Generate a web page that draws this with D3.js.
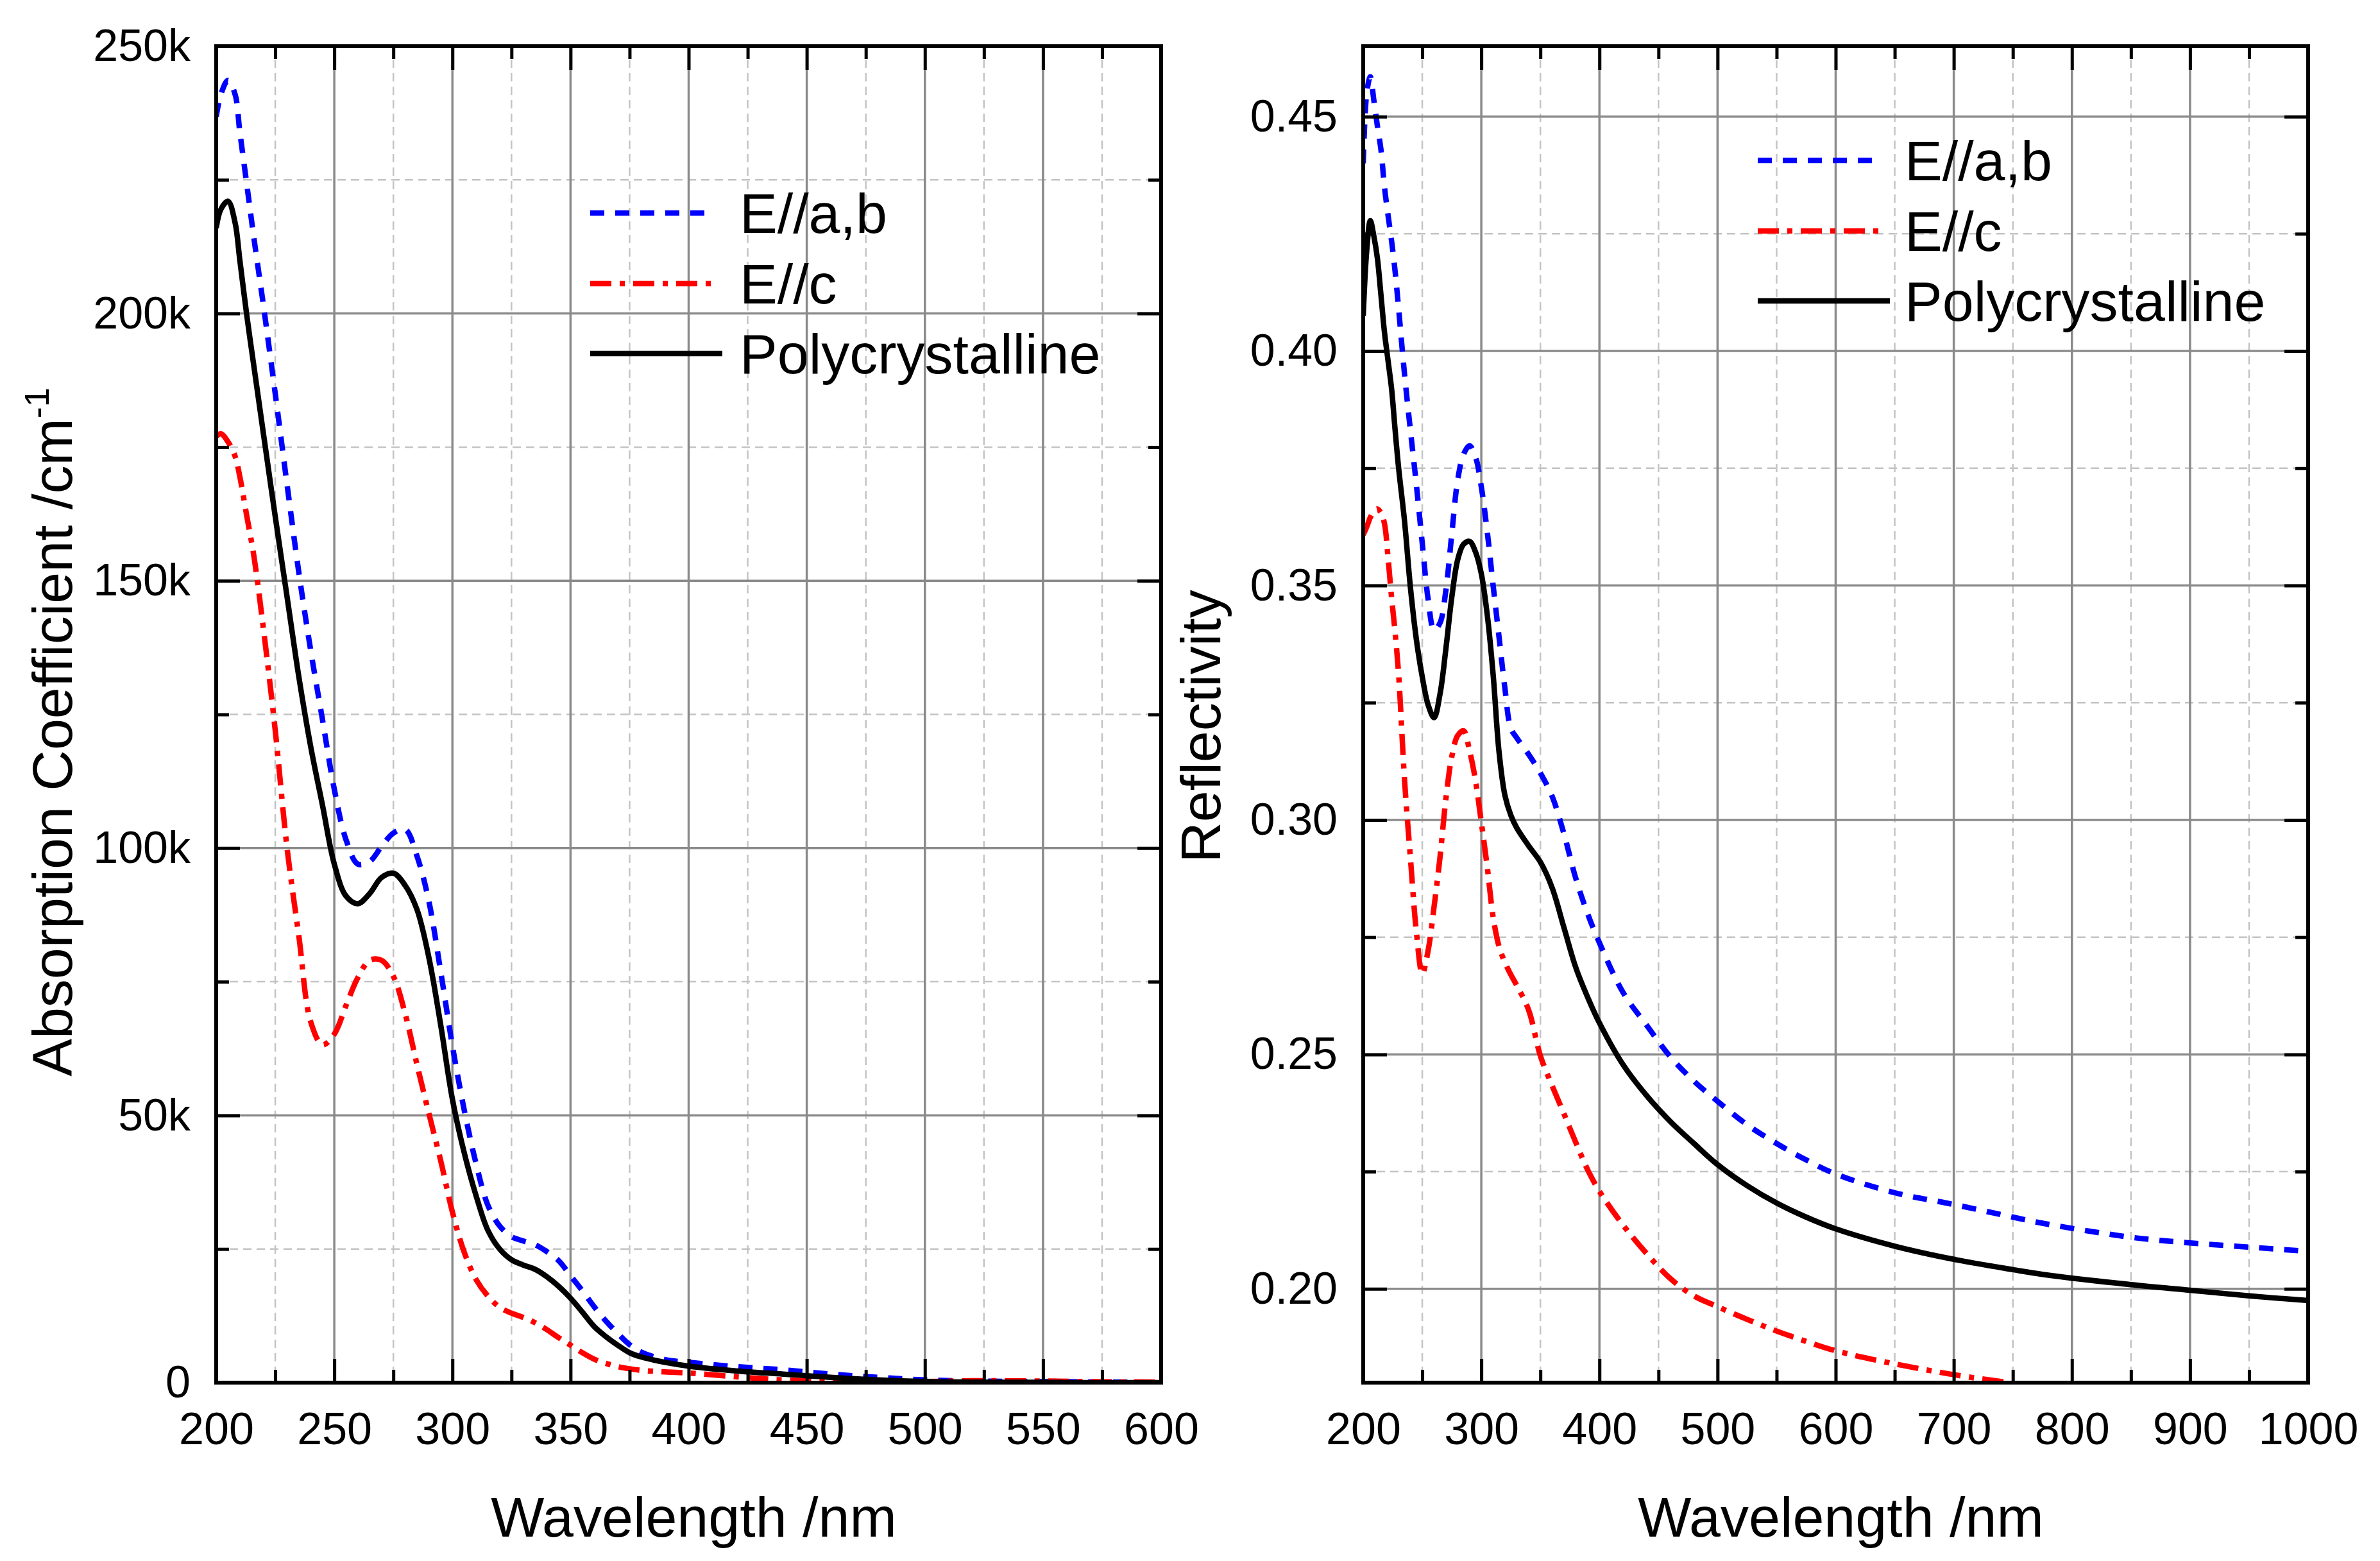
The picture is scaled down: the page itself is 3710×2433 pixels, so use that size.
<!DOCTYPE html>
<html>
<head>
<meta charset="utf-8">
<script src="https://cdn.jsdelivr.net/npm/d3@7"></script>
<style>
  body { margin: 0; background: #fff; }
  text { font-family: "Liberation Sans", Arial, sans-serif; fill: #000; }
</style>
</head>
<body>
<script>
// ---- absorption panel data (values in k cm^-1) ----
let absWavelength = [200,202,205,208,210,213,216,220,225,230,235,240,245,250,255,260,265,270,275,280,
                     285,290,295,300,305,310,315,320,325,330,335,340,345,350,355,360,365,370,375,380,
                     390,400,420,440,460,480,500,520,550,575,600];
let absAB   = [236.8,241,243.6,241,234,224,214,201.5,185,168,151.5,137,124,111,101.5,97,97.5,100.3,102.8,103.5,
               98.5,90.1,77,63,51,41,33.2,29.3,27.3,26.5,25.8,24.5,22.8,20,17.2,14.2,11.5,9.2,7.1,5.7,
               4.3,3.8,3.0,2.4,1.6,1.0,0.5,0.3,0.2,0.1,0.05];
let absC    = [177,177.5,176,173.3,169.5,162,154.5,141,122,100,83.5,67.5,63.2,65.2,70.6,75.8,79,79,76,69,
               59.5,50.4,41.6,31.9,24.4,19.3,16.2,14.1,13,12.2,11.2,9.9,8.4,7,5.6,4.4,3.6,3.0,2.6,2.3,
               2.0,1.8,1.1,0.5,0.3,0.2,0.2,0.35,0.3,0.15,0.1];
let absPoly = [216,219.5,221,217,210,199.5,190,177.5,162,147,132,119,108,97,91,89.6,91.5,94.5,95.3,93,
               88.5,79.6,67,53,43,35,28.5,25,23,22,21.2,19.8,18,15.8,13.2,10.5,8.6,7,5.6,4.8,
               3.8,3.1,2.2,1.6,1.0,0.5,0.2,0.1,0.05,0,0];

// ---- reflectivity panel data ----
let refWavelength = [200,203,206,209,212,215,218,221,224,227,230,235,240,245,250,255,260,265,270,275,
                     280,285,290,295,300,305,310,315,320,325,330,340,350,360,370,380,390,400,420,440,
                     460,480,500,525,550,575,600,650,700,750,775,850,900,950,1000];
let refAB   = [0.440,0.455,0.4585,0.4535,0.448,0.443,0.435,0.429,0.4235,0.417,0.409,0.395,0.383,0.3715,0.359,0.347,0.3405,0.342,0.349,0.361,
               0.3725,0.378,0.3798,0.3775,0.371,0.3615,0.350,0.339,0.328,0.3195,0.3175,0.314,0.310,0.305,0.297,0.2875,0.280,0.2738,0.2632,0.2562,
               0.2495,0.2443,0.240,0.235,0.231,0.2275,0.2245,0.2205,0.218,0.2153,0.214,0.211,0.2098,0.2089,0.208];
let refC    = [0.3608,0.3625,0.3645,0.3658,0.3663,0.3655,0.3632,0.356,0.3475,0.340,0.331,0.3085,0.2918,0.2762,0.2672,0.2722,0.2815,0.292,0.3045,0.3135,
               0.318,0.319,0.3148,0.3085,0.2995,0.290,0.2793,0.273,0.2696,0.267,0.2647,0.2595,0.2497,0.2433,0.2373,0.2312,0.2254,0.2208,0.2136,0.2075,
               0.2022,0.1985,0.1962,0.1935,0.191,0.1888,0.1868,0.1840,0.1817,0.1799,0.1792,null,null,null,null];
let refPoly = [0.4075,0.4215,0.4278,0.4245,0.4198,0.412,0.404,0.398,0.392,0.3832,0.375,0.3637,0.3495,0.3385,0.3305,0.3245,0.3218,0.3268,0.3365,0.3475,
               0.3555,0.3588,0.3594,0.3572,0.3525,0.3438,0.331,0.3145,0.3052,0.3010,0.2983,0.2945,0.291,0.2855,0.277,0.2685,0.2622,0.2567,0.2478,0.2412,
               0.2357,0.2310,0.2265,0.2220,0.2183,0.2153,0.2128,0.2091,0.2063,0.2041,0.2031,0.2009,0.1997,0.1985,0.1975];

let legendLabels = ["E//a,b", "E//c", "Polycrystalline"];

// ---- ticks ----
let absXMajor = [200,250,300,350,400,450,500,550,600];
let absXMinor = [225,275,325,375,425,475,525,575];
let absYMajor = [0,50,100,150,200,250];
let absYMinor = [25,75,125,175,225];
let refXMajor = [200,300,400,500,600,700,800,900,1000];
let refXMinor = [250,350,450,550,650,750,850,950];
let refYMajor = [0.20,0.25,0.30,0.35,0.40,0.45];
let refYMinor = [0.225,0.275,0.325,0.375,0.425];

let width = 3710;
let height = 2433;
let svg = d3.select("body").append("svg")
            .attr("width", width)
            .attr("height", height);

// legend sample length differs per style so each pattern ends cleanly
let styles = [
  { color: "#0000ff", dash: "22,17", legLen: 178 },
  { color: "#ff0000", dash: "33,13,8,13", legLen: 192 },
  { color: "#000000", dash: null, legLen: 206 }
];

function drawPanel(p) {
  let x = d3.scaleLinear().domain(p.xDomain).range([p.left, p.right]);
  let y = d3.scaleLinear().domain(p.yDomain).range([p.bottom, p.top]);
  let w = p.right - p.left, h = p.bottom - p.top;
  let g = svg.append("g");

  // grid: minor dashed, major solid
  g.selectAll(".vminor").data(p.xMinor).enter().append("line")
    .attr("x1", d => x(d)).attr("x2", d => x(d)).attr("y1", p.top).attr("y2", p.bottom)
    .attr("stroke", "#c4c4c4").attr("stroke-width", 2.5).attr("stroke-dasharray", "13,8");
  g.selectAll(".hminor").data(p.yMinor).enter().append("line")
    .attr("x1", p.left).attr("x2", p.right).attr("y1", d => y(d)).attr("y2", d => y(d))
    .attr("stroke", "#c4c4c4").attr("stroke-width", 2.5).attr("stroke-dasharray", "13,8");
  g.selectAll(".vmajor").data(p.xMajor).enter().append("line")
    .attr("x1", d => x(d)).attr("x2", d => x(d)).attr("y1", p.top).attr("y2", p.bottom)
    .attr("stroke", "#8a8a8a").attr("stroke-width", 3.5);
  g.selectAll(".hmajor").data(p.yMajor).enter().append("line")
    .attr("x1", p.left).attr("x2", p.right).attr("y1", d => y(d)).attr("y2", d => y(d))
    .attr("stroke", "#8a8a8a").attr("stroke-width", 3.5);

  // curves
  let clipId = "clip" + p.left;
  svg.append("defs").append("clipPath").attr("id", clipId)
     .append("rect").attr("x", p.left).attr("y", p.top).attr("width", w).attr("height", h);
  let line = d3.line()
               .defined(d => d[1] !== null)
               .x(d => x(d[0])).y(d => y(d[1]))
               .curve(d3.curveCatmullRom.alpha(0.5));
  p.series.forEach((s, i) => {
    let pts = p.wl.map((wv, k) => [wv, s[k]]);
    g.append("path").datum(pts)
      .attr("clip-path", "url(#" + clipId + ")")
      .attr("d", line)
      .attr("fill", "none")
      .attr("stroke", styles[i].color)
      .attr("stroke-width", 8.5)
      .attr("stroke-dasharray", styles[i].dash);
  });

  // axes with inward ticks on all four sides
  function axis(gen, tr, vals, size, labels) {
    let a = gen.tickValues(vals).tickSizeInner(-size).tickSizeOuter(0).tickPadding(labels ? p.pad : 0)
               .tickFormat(labels ? p.fmt : () => "");
    let ag = g.append("g").attr("transform", tr).call(a);
    ag.select(".domain").remove();
    ag.selectAll("line").attr("stroke", "#000").attr("stroke-width", 5);
    ag.selectAll("text").attr("font-size", 70).attr("fill", "#000")
      .style("font-family", "'Liberation Sans', Arial, sans-serif");
    return ag;
  }
  let bx = axis(d3.axisBottom(x), `translate(0,${p.bottom})`, p.xMajor, 37, true);
  bx.selectAll("text").attr("dy", "0.71em").attr("y", 46);
  axis(d3.axisBottom(x), `translate(0,${p.bottom})`, p.xMinor, 20, false);
  axis(d3.axisTop(x), `translate(0,${p.top})`, p.xMajor, 37, false);
  axis(d3.axisTop(x), `translate(0,${p.top})`, p.xMinor, 20, false);
  axis(d3.axisLeft(y), `translate(${p.left},0)`, p.yMajor, 37, false);
  g.selectAll(".ylab").data(p.yMajor).enter().append("text")
    .attr("x", p.left - 40).attr("y", d => y(d)).attr("dy", "0.33em")
    .attr("text-anchor", "end").attr("font-size", 70)
    .text(p.fmtY);
  axis(d3.axisLeft(y), `translate(${p.left},0)`, p.yMinor, 20, false);
  axis(d3.axisRight(y), `translate(${p.right},0)`, p.yMajor, 37, false);
  axis(d3.axisRight(y), `translate(${p.right},0)`, p.yMinor, 20, false);

  // frame
  g.append("rect").attr("x", p.left).attr("y", p.top).attr("width", w).attr("height", h)
    .attr("fill", "none").attr("stroke", "#000").attr("stroke-width", 6);

  // legend
  legendLabels.forEach((lab, i) => {
    let ry = p.legY[i];
    g.append("line").attr("x1", p.legX[0]).attr("x2", p.legX[0] + styles[i].legLen)
      .attr("y1", ry).attr("y2", ry)
      .attr("stroke", styles[i].color).attr("stroke-width", 8.5)
      .attr("stroke-dasharray", styles[i].dash);
    g.append("text").attr("x", p.legX[1]).attr("y", ry + 31).attr("font-size", 88).text(lab);
  });

  // titles
  g.append("text").attr("x", (p.left + p.right) / 2 + 8).attr("y", 2395)
    .attr("text-anchor", "middle").attr("font-size", 88).text("Wavelength /nm");
  let yt = g.append("text")
    .attr("transform", `translate(${p.yTitle[0]},${p.yTitle[1]}) rotate(-90)`)
    .attr("text-anchor", "middle").attr("font-size", 88);
  yt.append("tspan").text(p.yLabel);
  if (p.ySup) yt.append("tspan").attr("dy", -36).attr("font-size", 54).text(p.ySup);
}

drawPanel({
  left: 337, right: 1810, top: 72, bottom: 2155,
  xDomain: [200, 600], yDomain: [0, 250],
  xMajor: absXMajor, xMinor: absXMinor, yMajor: absYMajor, yMinor: absYMinor,
  wl: absWavelength, series: [absAB, absC, absPoly],
  fmt: d => d, fmtY: d => d === 0 ? "0" : d + "k", pad: 46,
  legX: [920, 1153], legY: [332, 442, 551],
  yLabel: "Absorption Coefficient /cm", ySup: "-1", yTitle: [112, 1141]
});

drawPanel({
  left: 2125, right: 3598, top: 72, bottom: 2155,
  xDomain: [200, 1000], yDomain: [0.18, 0.465],
  xMajor: refXMajor, xMinor: refXMinor, yMajor: refYMajor, yMinor: refYMinor,
  wl: refWavelength, series: [refAB, refC, refPoly],
  fmt: d => d, fmtY: d3.format(".2f"), pad: 46,
  legX: [2740, 2969], legY: [250, 360, 469],
  yLabel: "Reflectivity", ySup: null, yTitle: [1902, 1132]
});
</script>
</body>
</html>
